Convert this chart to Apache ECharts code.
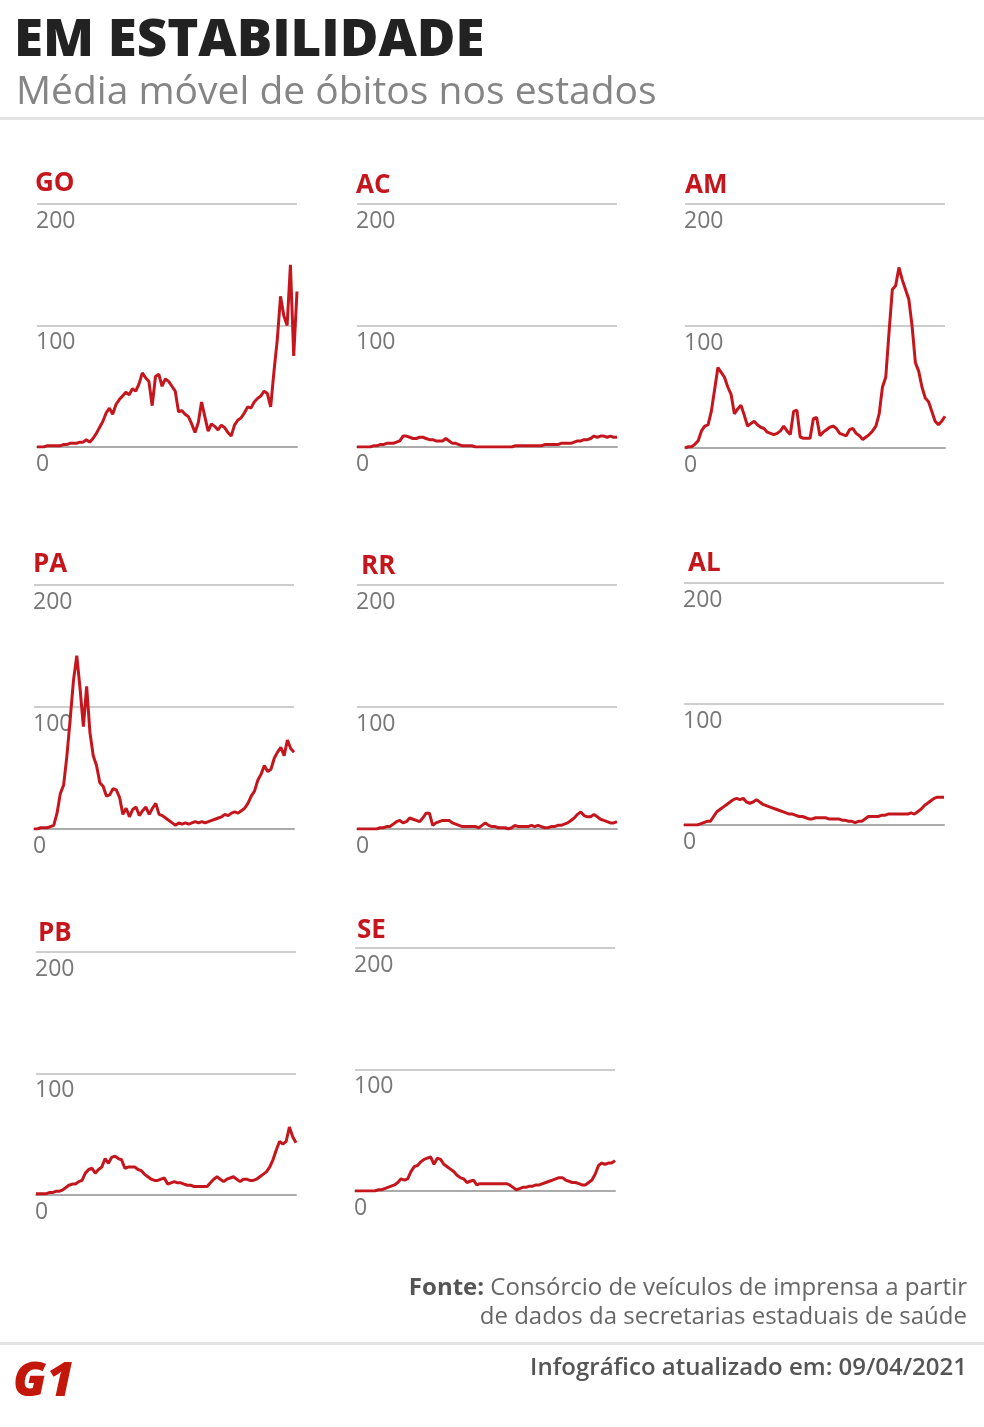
<!DOCTYPE html>
<html>
<head>
<meta charset="utf-8">
<script src="https://cdn.jsdelivr.net/npm/echarts@6/dist/echarts.min.js"></script>
<style>
  html, body { margin: 0; padding: 0; background: #fff; }
  #chart { width: 984px; height: 1427px; }
</style>
</head>
<body>
<div id="chart"></div>
<script>
// média móvel de óbitos, amostrada ~a cada 5 dias (mar/2020 – 09/04/2021)
var GO = [0,0,0,1,1,1,1,1,2,2,3,3,3,4,4,6,4,7,11,16,21,28,32,27,35,39,42,45,43,48,46,52,61,57,54,34,58,60,50,56,54,50,46,29,30,27,25,19,12,20,37,25,13,19,17,14,18,16,12,9,18,22,24,28,33,32,37,40,42,46,44,33,62,88,124,108,100,150,75,128];
var AC = [0,0,0,0,0,1,1,2,2,3,3,3,4,5,9,9,8,7,7,8,8,7,6,6,5,5,5,7,5,3,3,2,1,1,1,1,0,0,0,0,0,0,0,0,0,0,0,0,1,1,1,1,1,1,1,1,1,2,2,2,2,2,3,3,3,3,4,5,5,6,6,7,9,8,9,9,8,9,8,8];
var AM = [0,1,1,3,6,14,18,19,30,48,66,62,58,50,44,28,32,35,27,18,20,22,19,17,16,13,12,11,12,14,18,14,11,30,31,9,8,8,8,24,25,10,13,15,17,18,16,12,11,10,15,16,12,10,7,9,11,14,18,28,50,58,95,130,133,148,138,130,122,100,70,63,50,41,38,30,22,19,22,26];
var PA = [0,0,1,1,1,2,3,13,29,36,60,90,122,142,115,84,117,79,60,52,38,35,27,28,33,32,26,12,17,10,16,18,11,15,18,12,17,21,12,11,9,7,5,3,5,4,5,4,5,6,5,6,5,6,7,8,9,10,12,11,13,14,13,15,17,21,27,31,40,45,52,47,49,58,63,67,60,73,66,63];
var RR = [0,0,0,0,0,0,0,1,1,2,2,4,6,7,5,6,9,8,7,6,9,13,13,3,5,6,7,7,7,5,4,3,2,2,2,2,2,1,3,5,3,2,2,1,1,1,0,1,3,2,2,2,2,3,2,3,2,1,1,2,2,3,3,4,5,7,9,12,14,11,10,10,12,10,8,7,6,5,5,6];
var AL = [0,0,0,0,0,1,2,3,3,7,11,13,15,17,19,21,22,21,22,19,18,19,21,19,17,16,15,14,13,12,11,10,9,9,8,7,7,6,5,5,6,6,6,6,5,5,5,5,4,4,3,3,2,3,3,5,7,7,7,7,8,8,9,9,9,9,9,9,9,10,9,11,13,16,18,20,22,23,23,23];
var PB = [1,1,1,1,2,2,3,3,4,6,8,9,9,11,12,18,21,22,18,21,23,30,26,31,32,30,29,22,23,23,23,21,20,17,15,13,12,12,13,14,9,10,11,10,10,9,8,8,7,7,7,7,7,10,13,15,13,11,13,14,15,13,11,13,13,12,12,13,15,17,19,23,29,37,44,42,44,56,48,43];
var SE = [0,0,0,0,0,0,0,1,1,2,3,4,5,7,10,9,10,16,20,21,24,26,27,28,22,27,26,22,20,18,16,13,11,10,7,8,9,5,6,6,6,6,6,6,6,6,6,5,3,1,2,3,3,4,4,5,5,6,7,8,9,10,11,11,9,8,7,7,6,5,5,7,9,14,21,23,22,23,23,25];

var steps = GO.map(function (_, i) { return i; });
var yMin = 0, yMax = 200, yStep = 100;

var RED = "#c4161c";
var FONT = "'Open Sans', 'Noto Sans', sans-serif";

// painéis: [sigla, série, left, top, width, height, título x, título y]
var panels = [
  ["GO", GO, 37, 204, 260, 243, 35, 182],
  ["AC", AC, 357, 204, 260, 243, 356, 184],
  ["AM", AM, 685, 204, 260, 244, 685, 184],
  ["PA", PA, 34, 585, 260, 244, 33, 563],
  ["RR", RR, 357, 585, 260, 244, 361, 565],
  ["AL", AL, 684, 583, 260, 242, 688, 562],
  ["PB", PB, 36, 952, 260, 243, 38, 932],
  ["SE", SE, 355, 948, 260, 243, 357, 929]
];

var chart = echarts.init(document.getElementById("chart"));

var grids = [], xAxes = [], yAxes = [], series = [], graphics = [];

panels.forEach(function (p, i) {
  grids.push({ left: p[2], top: p[3], width: p[4], height: p[5] });
  xAxes.push({
    type: "category", gridIndex: i, data: steps, boundaryGap: false,
    axisLine: { show: true, lineStyle: { color: "#ababab", width: 2 } },
    axisTick: { show: false }, axisLabel: { show: false }, splitLine: { show: false }
  });
  yAxes.push({
    type: "value", gridIndex: i, min: yMin, max: yMax, interval: yStep,
    axisLine: { show: false }, axisTick: { show: false },
    splitLine: { lineStyle: { color: "#cdcdcd", width: 2 } },
    axisLabel: {
      inside: true, margin: -1, verticalAlign: "top", padding: [6, 0, 0, 0],
      lineHeight: 22, fontSize: 23, color: "#777", fontFamily: FONT
    }
  });
  series.push({
    type: "line", name: p[0], xAxisIndex: i, yAxisIndex: i, data: p[1],
    showSymbol: false, symbol: "none",
    lineStyle: { color: RED, width: 3 }
  });
  graphics.push({
    type: "text", left: p[6], top: p[7] - 11,
    style: { text: p[0], fill: RED, font: "bold 26px " + FONT }
  });
});

graphics.push(
  { type: "text", left: 14, top: 16, scaleX: 1.035, style: { text: "EM ESTABILIDADE", fill: "#222", font: "800 51px " + FONT } },
  { type: "text", left: 16, top: 73, style: { text: "Média móvel de óbitos nos estados", fill: "#858585", font: "39px " + FONT } },
  { type: "rect", shape: { x: 0, y: 117, width: 984, height: 3 }, style: { fill: "#e3e3e3" } },
  {
    type: "text", right: 17, top: 1276,
    style: {
      text: "{b|Fonte:} Consórcio de veículos de imprensa a partir",
      fill: "#666", font: "24px " + FONT,
      rich: { b: { font: "bold 24px " + FONT, fill: "#555" } }
    }
  },
  { type: "text", right: 17, top: 1305, style: { text: "de dados da secretarias estaduais de saúde", fill: "#666", font: "24px " + FONT } },
  { type: "rect", shape: { x: 0, y: 1342, width: 984, height: 3 }, style: { fill: "#e3e3e3" } },
  { type: "text", right: 17, top: 1356, style: { text: "Infográfico atualizado em: 09/04/2021", fill: "#555", font: "600 24px " + FONT } },
  { type: "text", left: 13, top: 1358, style: { text: "G1", fill: "#c4170c", font: "italic 900 48px " + FONT } }
);

chart.setOption({
  animation: false,
  grid: grids,
  xAxis: xAxes,
  yAxis: yAxes,
  series: series,
  graphic: graphics
});
</script>
</body>
</html>
